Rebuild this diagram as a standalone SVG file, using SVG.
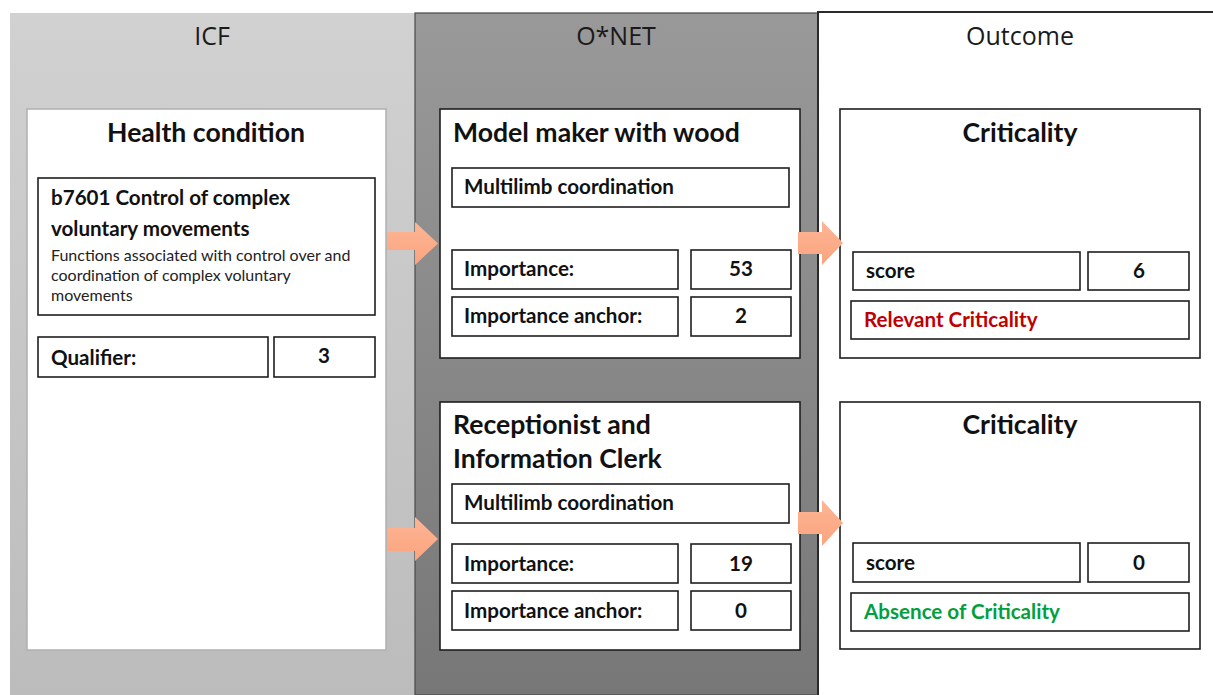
<svg xmlns="http://www.w3.org/2000/svg" width="1213" height="695" viewBox="0 0 1213 695">
<defs>
<linearGradient id="gIcf" x1="0" y1="0" x2="0" y2="1"><stop offset="0" stop-color="#d1d1d1"/><stop offset="1" stop-color="#bcbcbc"/></linearGradient>
<linearGradient id="gOnet" x1="0" y1="0" x2="0" y2="1"><stop offset="0" stop-color="#999999"/><stop offset="1" stop-color="#777777"/></linearGradient>
<linearGradient id="gArrow" x1="0" y1="0" x2="0" y2="1"><stop offset="0" stop-color="#fdb595"/><stop offset="1" stop-color="#fca47e"/></linearGradient>
<style>
.hdr{font-family:"Open Sans","Liberation Sans",sans-serif;font-size:25px;fill:#1a1a1a;text-anchor:middle}
.title{font-family:Lato,"Liberation Sans",sans-serif;font-weight:bold;font-size:26.6px;fill:#111}
.lbl{font-family:Lato,"Liberation Sans",sans-serif;font-weight:bold;font-size:20.6px;fill:#111}
.sm{font-family:Lato,"Liberation Sans",sans-serif;font-size:16px;fill:#222}
.mid{text-anchor:middle}
.card{fill:#fff;stroke:#1e1e1e;stroke-width:1.6}
.cell{fill:#fff;stroke:#1e1e1e;stroke-width:1.6}
.arrow{fill:url(#gArrow)}
</style>
</defs>
<g id="columns">
<rect x="10" y="13" width="405" height="682" fill="url(#gIcf)"/>
<rect x="415" y="13" width="403" height="682" fill="url(#gOnet)" stroke="#4a4a4a" stroke-width="1.2"/>
<rect x="818" y="12" width="395" height="683" fill="#fff"/>
<path d="M818 695 V12 H1213" fill="none" stroke="#2a2a2a" stroke-width="2"/>
<text class="hdr" x="212" y="45">ICF</text>
<text class="hdr" x="616" y="45">O*NET</text>
<text class="hdr" x="1020" y="45">Outcome</text>
</g>
<g id="health">
<rect x="27" y="109" width="359" height="541" fill="#fff" stroke="#b0b0b0" stroke-width="1.5"/>
<text class="title mid" x="206" y="142">Health condition</text>
<rect class="cell" x="38" y="178" width="337" height="137"/>
<text class="lbl" x="51" y="205">b7601 Control of complex</text>
<text class="lbl" x="51" y="236">voluntary movements</text>
<text class="sm" x="51" y="261">Functions associated with control over and</text>
<text class="sm" x="51" y="281">coordination of complex voluntary</text>
<text class="sm" x="51" y="301">movements</text>
<rect class="cell" x="38" y="337" width="230" height="40"/>
<text class="lbl" x="51" y="365">Qualifier:</text>
<rect class="cell" x="274" y="337" width="101" height="40"/>
<text class="lbl mid" x="324" y="363">3</text>
</g>
<g id="model-maker">
<rect class="card" x="440" y="109" width="360" height="249"/>
<text class="title" x="453" y="142">Model maker with wood</text>
<rect class="cell" x="452" y="168" width="337" height="39"/>
<text class="lbl" x="464" y="194">Multilimb coordination</text>
<rect class="cell" x="452" y="250" width="226" height="39"/>
<text class="lbl" x="464" y="276">Importance:</text>
<rect class="cell" x="691" y="250" width="100" height="39"/>
<text class="lbl mid" x="741" y="276">53</text>
<rect class="cell" x="452" y="297" width="226" height="39"/>
<text class="lbl" x="464" y="323">Importance anchor:</text>
<rect class="cell" x="691" y="297" width="100" height="39"/>
<text class="lbl mid" x="741" y="323">2</text>
</g>
<g id="receptionist">
<rect class="card" x="440" y="402" width="360" height="248"/>
<text class="title" x="453" y="434">Receptionist and</text>
<text class="title" x="453" y="468">Information Clerk</text>
<rect class="cell" x="452" y="484" width="337" height="39"/>
<text class="lbl" x="464" y="510">Multilimb coordination</text>
<rect class="cell" x="452" y="544" width="226" height="39"/>
<text class="lbl" x="464" y="571">Importance:</text>
<rect class="cell" x="691" y="544" width="100" height="39"/>
<text class="lbl mid" x="741" y="571">19</text>
<rect class="cell" x="452" y="591" width="226" height="39"/>
<text class="lbl" x="464" y="618">Importance anchor:</text>
<rect class="cell" x="691" y="591" width="100" height="39"/>
<text class="lbl mid" x="741" y="618">0</text>
</g>
<g id="criticality-1">
<rect class="card" x="840" y="109" width="360" height="249"/>
<text class="title mid" x="1020" y="142">Criticality</text>
<rect class="cell" x="853" y="252" width="227" height="38"/>
<text class="lbl" x="866" y="278">score</text>
<rect class="cell" x="1088" y="252" width="101" height="38"/>
<text class="lbl mid" x="1139" y="278">6</text>
<rect class="cell" x="851" y="301" width="338" height="38"/>
<text class="lbl" x="864" y="327" style="fill:#c00000">Relevant Criticality</text>
</g>
<g id="criticality-2">
<rect class="card" x="840" y="402" width="360" height="247"/>
<text class="title mid" x="1020" y="434">Criticality</text>
<rect class="cell" x="853" y="543" width="227" height="39"/>
<text class="lbl" x="866" y="570">score</text>
<rect class="cell" x="1088" y="543" width="101" height="39"/>
<text class="lbl mid" x="1139" y="570">0</text>
<rect class="cell" x="851" y="593" width="338" height="38"/>
<text class="lbl" x="864" y="619" style="fill:#00a040">Absence of Criticality</text>
</g>
<g id="connectors">
<path class="arrow" d="M387 232 H415 V222 L438 243.5 L415 265 V250 H387 Z"/>
<path class="arrow" d="M387 528 H415 V517 L438 539 L415 561 V551 H387 Z"/>
<path class="arrow" d="M798 232 H822 V221 L843 243 L822 265 V254 H798 Z"/>
<path class="arrow" d="M798 512 H822 V500 L843 523 L822 546 V534 H798 Z"/>
</g>
</svg>
